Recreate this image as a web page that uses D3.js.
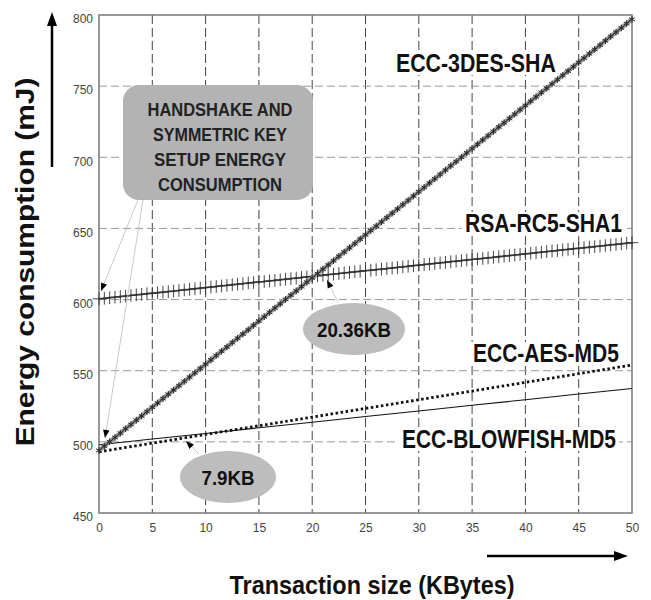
<!DOCTYPE html>
<html>
<head>
<meta charset="utf-8">
<script src="https://cdn.jsdelivr.net/npm/d3@7"></script>
<style>
  body { margin: 0; background: #fff; }
  svg { font-family: "Liberation Sans", Arial, sans-serif; }
</style>
</head>
<body>
<svg id="chart" width="651" height="600"></svg>
<script>
// transaction sizes (KB) sampled for the marked series
var kbFine = [0,0.5,1,1.5,2,2.5,3,3.5,4,4.5,5,5.5,6,6.5,7,7.5,8,8.5,9,9.5,
  10,10.5,11,11.5,12,12.5,13,13.5,14,14.5,15,15.5,16,16.5,17,17.5,18,18.5,19,19.5,
  20,20.5,21,21.5,22,22.5,23,23.5,24,24.5,25,25.5,26,26.5,27,27.5,28,28.5,29,29.5,
  30,30.5,31,31.5,32,32.5,33,33.5,34,34.5,35,35.5,36,36.5,37,37.5,38,38.5,39,39.5,
  40,40.5,41,41.5,42,42.5,43,43.5,44,44.5,45,45.5,46,46.5,47,47.5,48,48.5,49,49.5,50];
var kbCoarse = [0,5,10,15,20,25,30,35,40,45,50];

var ecc3desSha = [494.0,497.0,500.1,503.1,506.1,509.2,512.2,515.2,518.2,521.3,
  524.3,527.3,530.4,533.4,536.4,539.5,542.5,545.5,548.5,551.6,
  554.6,557.6,560.7,563.7,566.7,569.8,572.8,575.8,578.8,581.9,
  584.9,587.9,591.0,594.0,597.0,600.1,603.1,606.1,609.1,612.2,
  615.2,618.2,621.3,624.3,627.3,630.4,633.4,636.4,639.4,642.5,
  645.5,648.5,651.6,654.6,657.6,660.7,663.7,666.7,669.7,672.8,
  675.8,678.8,681.9,684.9,687.9,691.0,694.0,697.0,700.0,703.1,
  706.1,709.1,712.2,715.2,718.2,721.3,724.3,727.3,730.3,733.4,
  736.4,739.4,742.5,745.5,748.5,751.6,754.6,757.6,760.6,763.7,
  766.7,769.7,772.8,775.8,778.8,781.9,784.9,787.9,790.9,794.0,797.0];

var rsaRc5Sha1 = [600.5,600.9,601.3,601.7,602.1,602.5,602.9,603.3,603.7,604.1,
  604.5,604.8,605.2,605.6,606.0,606.4,606.8,607.2,607.6,608.0,
  608.4,608.8,609.2,609.6,610.0,610.4,610.8,611.2,611.6,612.0,
  612.4,612.7,613.1,613.5,613.9,614.3,614.7,615.1,615.5,615.9,
  616.3,616.7,617.1,617.5,617.9,618.3,618.7,619.1,619.5,619.9,
  620.3,620.6,621.0,621.4,621.8,622.2,622.6,623.0,623.4,623.8,
  624.2,624.6,625.0,625.4,625.8,626.2,626.6,627.0,627.4,627.8,
  628.2,628.5,628.9,629.3,629.7,630.1,630.5,630.9,631.3,631.7,
  632.1,632.5,632.9,633.3,633.7,634.1,634.5,634.9,635.3,635.7,
  636.1,636.4,636.8,637.2,637.6,638.0,638.4,638.8,639.2,639.6,640.0];

var eccAesMd5 = [493,499.1,505.2,511.3,517.4,523.5,529.6,535.7,541.8,547.9,554];
var eccBlowfishMd5 = [498,502,505.9,509.9,513.8,517.8,521.7,525.7,529.6,533.6,537.5];

var xTicks = [0,5,10,15,20,25,30,35,40,45,50];
var yTicks = [450,500,550,600,650,700,750,800];
var boxLines = ["HANDSHAKE AND", "SYMMETRIC KEY", "SETUP ENERGY", "CONSUMPTION"];

var margin = {left: 99, top: 15, right: 19, bottom: 87};
var W = 651, H = 600;
var pw = W - margin.left - margin.right, ph = H - margin.top - margin.bottom;

var svg = d3.select("#chart");
var g = svg.append("g").attr("transform", "translate(" + margin.left + "," + margin.top + ")");

var x = d3.scaleLinear().domain([0, 50]).range([0, pw]);
var y = d3.scaleLinear().domain([450, 800]).range([ph, 0]);

// narrow bold text: squeeze a text horizontally to a given width
function narrowText(parent, str, px, py, size, width, anchor, rotate) {
  var t = parent.append("text").text(str)
    .style("font-size", size + "px").style("font-weight", "bold").attr("fill", "#111")
    .attr("text-anchor", anchor || "start");
  var sx = width / t.node().getComputedTextLength();
  t.attr("transform", "translate(" + px + "," + py + ")" + (rotate ? " rotate(" + rotate + ")" : "") +
    " scale(" + sx + ",1)");
  return t;
}

// grid
g.selectAll(".vgrid").data(xTicks.slice(1, -1)).enter().append("line")
  .attr("x1", d => x(d)).attr("x2", d => x(d)).attr("y1", 0).attr("y2", ph)
  .attr("stroke", "#444").attr("stroke-width", 1).attr("stroke-dasharray", "9,4");
g.selectAll(".hgrid").data(yTicks.slice(1, -1)).enter().append("line")
  .attr("x1", 0).attr("x2", pw).attr("y1", d => y(d)).attr("y2", d => y(d))
  .attr("stroke", "#999").attr("stroke-width", 1).attr("stroke-dasharray", "8,4");

// axes
var xAxis = g.append("g").attr("transform", "translate(0," + ph + ")")
  .call(d3.axisBottom(x).tickValues(xTicks).tickSize(0).tickPadding(10));
var yAxis = g.append("g")
  .call(d3.axisLeft(y).tickValues(yTicks).tickSize(0).tickPadding(5));
[xAxis, yAxis].forEach(function(a) {
  a.select(".domain").remove();
  a.selectAll("text").attr("fill", "#444").style("font-size", "12px")
    .style("font-family", "'Liberation Sans', Arial, sans-serif");
});
yAxis.selectAll("text").attr("dy", "0.65em").attr("dx", "-1");

g.append("rect").attr("width", pw).attr("height", ph)
  .attr("fill", "none").attr("stroke", "#777").attr("stroke-width", 1.5);

// series labels (white backing)
var seriesLabels = [
  {text: "ECC-3DES-SHA", x: 396, y: 72, len: 160},
  {text: "RSA-RC5-SHA1", x: 465, y: 232, len: 157},
  {text: "ECC-AES-MD5", x: 473, y: 362, len: 146},
  {text: "ECC-BLOWFISH-MD5", x: 402, y: 448, len: 214}
];
seriesLabels.forEach(function(l) {
  svg.append("rect").attr("x", l.x - 3).attr("y", l.y - 20).attr("width", l.len + 6).attr("height", 23)
    .attr("fill", "#fff");
  narrowText(svg, l.text, l.x, l.y, 25, l.len);
});

var line = d3.line().x(d => x(d[0])).y(d => y(d[1]));

// ECC-BLOWFISH-MD5 solid thin
g.append("path").datum(d3.zip(kbCoarse, eccBlowfishMd5)).attr("d", line)
  .attr("fill", "none").attr("stroke", "#111").attr("stroke-width", 1.1);

// ECC-AES-MD5 dotted
g.append("path").datum(d3.zip(kbCoarse, eccAesMd5)).attr("d", line)
  .attr("fill", "none").attr("stroke", "#111").attr("stroke-width", 2.8)
  .attr("stroke-dasharray", "2.5,2.6");

// RSA-RC5-SHA1 with plus markers
var rsaPts = d3.zip(kbFine, rsaRc5Sha1);
g.append("path").datum(rsaPts).attr("d", line)
  .attr("fill", "none").attr("stroke", "#222").attr("stroke-width", 1.3);
g.selectAll(".plus").data(rsaPts).enter().append("path")
  .attr("transform", d => "translate(" + x(d[0]) + "," + y(d[1]) + ")")
  .attr("d", d3.symbol(d3.symbolPlus, 55))
  .attr("fill", "none").attr("stroke", "#333").attr("stroke-width", 0.9);

// ECC-3DES-SHA with asterisk markers
var desPts = d3.zip(kbFine, ecc3desSha);
g.append("path").datum(desPts).attr("d", line)
  .attr("fill", "none").attr("stroke", "#999").attr("stroke-width", 4.5);
g.selectAll(".star").data(desPts).enter().append("path")
  .attr("transform", d => "translate(" + x(d[0]) + "," + y(d[1]) + ")")
  .attr("d", d3.symbol(d3.symbolAsterisk, 30))
  .attr("fill", "none").attr("stroke", "#222").attr("stroke-width", 1);
g.append("path").datum(desPts).attr("d", line)
  .attr("fill", "none").attr("stroke", "#333").attr("stroke-width", 1);

// arrowhead helper
function arrowHead(x1, y1, x2, y2, len, hw) {
  var a = Math.atan2(y2 - y1, x2 - x1);
  var bx = x2 - len * Math.cos(a), by = y2 - len * Math.sin(a);
  var px = -Math.sin(a) * hw, py = Math.cos(a) * hw;
  svg.append("path")
    .attr("d", "M" + x2 + "," + y2 + "L" + (bx + px) + "," + (by + py) + "L" + (bx - px) + "," + (by - py) + "Z")
    .attr("fill", "#000");
}
function pointer(x1, y1, x2, y2) {
  svg.append("line").attr("x1", x1).attr("y1", y1).attr("x2", x2).attr("y2", y2)
    .attr("stroke", "#bbb").attr("stroke-width", 0.8);
  arrowHead(x1, y1, x2, y2, 8, 3.2);
}

// handshake annotation
pointer(138, 200, 101, 291);
pointer(143, 200, 105, 438);
svg.append("rect").attr("x", 123).attr("y", 85).attr("width", 190).attr("height", 115)
  .attr("rx", 16).attr("fill", "#b3b3b3");
var boxLens = [145, 134, 132, 124];
boxLines.forEach(function(t, i) {
  narrowText(svg, t, 220, 116 + i * 25, 18, boxLens[i], "middle").attr("fill", "#222");
});

// crossover callouts
var crossPoints = [
  {kb: 20.36, label: "20.36KB", cx: 354, cy: 329, rx: 51, ry: 26, len: 74, ax: 338, ay: 302, tx: 327, ty: 280},
  {kb: 7.9, label: "7.9KB", cx: 228, cy: 477, rx: 48, ry: 26, len: 53, ax: 199, ay: 454, tx: 186, ty: 441}
];
crossPoints.forEach(function(c) {
  pointer(c.ax, c.ay, c.tx, c.ty);
  svg.append("ellipse").attr("cx", c.cx).attr("cy", c.cy).attr("rx", c.rx).attr("ry", c.ry)
    .attr("fill", "#bdbdbd");
  narrowText(svg, c.label, c.cx, c.cy + 8, 21, c.len, "middle");
});

// axis titles
narrowText(svg, "Energy consumption (mJ)", 34, 262, 25, 369, "middle", -90);
narrowText(svg, "Transaction size (KBytes)", 372, 594, 25, 285, "middle");

// direction arrows
svg.append("line").attr("x1", 52).attr("y1", 167).attr("x2", 52).attr("y2", 24)
  .attr("stroke", "#000").attr("stroke-width", 2.5);
arrowHead(52, 167, 52, 12, 14, 5);
svg.append("line").attr("x1", 487).attr("y1", 556).attr("x2", 616).attr("y2", 556)
  .attr("stroke", "#000").attr("stroke-width", 2.5);
arrowHead(487, 556, 628, 556, 14, 5);
</script>
</body>
</html>
